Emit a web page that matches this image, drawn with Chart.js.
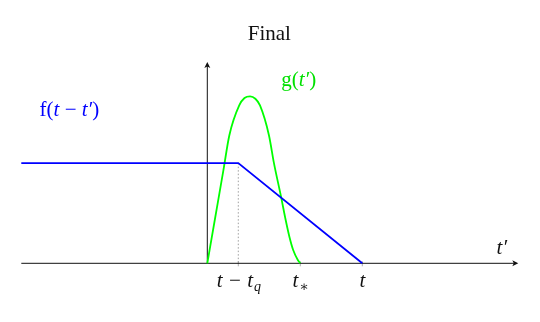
<!DOCTYPE html>
<html>
<head>
<meta charset="utf-8">
<script src="https://cdn.jsdelivr.net/npm/chart.js@4"></script>
<style>
  body { margin: 0; background: #fff; }
</style>
</head>
<body>
<canvas id="chart" width="540" height="322"></canvas>
<script>
// f(t - t'): flat, then linear drop to zero at t
const fX = [-6, 1, 5];
const fY = [3, 3, 0];

// g(t')
const gX = [0, 0.24, 0.52, 0.71, 1.03, 1.2, 1.38, 1.55, 1.7, 1.99, 2.15, 2.38, 2.53, 2.65, 2.77, 2.92, 3.0];
const gY = [0, 1.29, 2.79, 3.83, 4.73, 4.95, 5.0, 4.93, 4.73, 3.83, 3.0, 1.99, 1.29, 0.79, 0.4, 0.1, 0];

// marked positions on the t' axis
const tickValues = [1, 3, 5];
const tickMain = ['t − t', 't', 't'];
const tickSub = ['q', '∗', ''];

const serif = '"Liberation Serif", "DejaVu Serif", serif';

function pts(xs, ys) {
    return xs.map((x, i) => ({ x: x, y: ys[i] }));
}

// draw pieces of text in different styles, centred on cx
function drawPieces(ctx, pieces, cx, y, size) {
    let total = 0;
    pieces.forEach(p => {
        ctx.font = p[1] + ' ' + size + 'px ' + serif;
        total += ctx.measureText(p[0]).width;
    });
    let x = cx - total / 2;
    ctx.textAlign = 'left';
    pieces.forEach(p => {
        ctx.font = p[1] + ' ' + size + 'px ' + serif;
        ctx.fillText(p[0], x, y);
        x += ctx.measureText(p[0]).width;
    });
}

// axes with arrow heads, dotted guide, tick marks, labels
const decorations = {
    id: 'decorations',
    beforeDatasetsDraw(chart) {
        const ctx = chart.ctx;
        const xs = chart.scales.x;
        const ys = chart.scales.y;
        const x0 = xs.getPixelForValue(0);
        const y0 = ys.getPixelForValue(0);

        ctx.save();
        // dotted guide at t - tq
        ctx.strokeStyle = '#888';
        ctx.lineWidth = 0.8;
        ctx.setLineDash([1.5, 2]);
        ctx.beginPath();
        ctx.moveTo(xs.getPixelForValue(tickValues[0]), ys.getPixelForValue(fY[1]));
        ctx.lineTo(xs.getPixelForValue(tickValues[0]), y0);
        ctx.stroke();
        ctx.setLineDash([]);

        // tick marks
        ctx.strokeStyle = '#999';
        tickValues.forEach(v => {
            const px = xs.getPixelForValue(v);
            ctx.beginPath();
            ctx.moveTo(px, y0 - 2);
            ctx.lineTo(px, y0 + 3);
            ctx.stroke();
        });

        // axes
        ctx.strokeStyle = '#111';
        ctx.fillStyle = '#111';
        ctx.lineWidth = 1;
        const xEnd = xs.getPixelForValue(xs.max);
        const yEnd = ys.getPixelForValue(ys.max);
        ctx.beginPath();
        ctx.moveTo(xs.getPixelForValue(xs.min), y0);
        ctx.lineTo(xEnd - 2, y0);
        ctx.moveTo(x0, y0);
        ctx.lineTo(x0, yEnd + 2);
        ctx.stroke();
        // arrow heads
        ctx.beginPath();
        ctx.moveTo(xEnd + 1, y0);
        ctx.lineTo(xEnd - 5, y0 - 3);
        ctx.lineTo(xEnd - 3.5, y0);
        ctx.lineTo(xEnd - 5, y0 + 3);
        ctx.closePath();
        ctx.fill();
        ctx.beginPath();
        ctx.moveTo(x0, yEnd - 1);
        ctx.lineTo(x0 - 3, yEnd + 5);
        ctx.lineTo(x0, yEnd + 3.5);
        ctx.lineTo(x0 + 3, yEnd + 5);
        ctx.closePath();
        ctx.fill();
        ctx.restore();
    },
    afterDraw(chart) {
        const ctx = chart.ctx;
        const xs = chart.scales.x;
        const ys = chart.scales.y;
        const y0 = ys.getPixelForValue(0);

        ctx.save();
        ctx.textBaseline = 'alphabetic';
        ctx.fillStyle = '#111';

        // tick labels
        tickValues.forEach((v, i) => {
            const px = xs.getPixelForValue(v);
            ctx.font = 'italic 21px ' + serif;
            const wMain = ctx.measureText(tickMain[i]).width;
            ctx.font = 'italic 14px ' + serif;
            const wSub = tickSub[i] ? ctx.measureText(tickSub[i]).width : 0;
            let left = px - (wMain + wSub) / 2;
            ctx.font = 'italic 21px ' + serif;
            ctx.fillText(tickMain[i], left, y0 + 24);
            if (tickSub[i]) {
                ctx.font = (tickSub[i] === '∗' ? '' : 'italic ') + '14px ' + serif;
                ctx.fillText(tickSub[i], left + wMain + 1, y0 + 28);
            }
        });

        // axis name
        ctx.font = 'italic 21px ' + serif;
        ctx.textAlign = 'center';
        ctx.fillText('t′', xs.getPixelForValue(9.5), y0 - 9);

        // curve names
        ctx.fillStyle = '#0000ff';
        drawPieces(ctx, [['f', 'normal'], ['(', 'normal'], ['t', 'italic'], [' − ', 'normal'],
            ['t′', 'italic'], [')', 'normal']], xs.getPixelForValue(-4.45), ys.getPixelForValue(4.4), 21);
        ctx.fillStyle = '#00e000';
        drawPieces(ctx, [['g', 'normal'], ['(', 'normal'], ['t′', 'italic'], [')', 'normal']],
            xs.getPixelForValue(2.95), ys.getPixelForValue(5.3), 21);
        ctx.restore();
    }
};

new Chart(document.getElementById('chart'), {
    type: 'scatter',
    data: {
        datasets: [
            {
                label: 'f',
                data: pts(fX, fY),
                showLine: true,
                borderColor: '#0000ff',
                borderWidth: 1.8,
                pointRadius: 0,
                clip: false
            },
            {
                label: 'g',
                data: pts(gX, gY),
                showLine: true,
                borderColor: '#00ff00',
                borderWidth: 1.8,
                pointRadius: 0,
                cubicInterpolationMode: 'monotone',
                clip: false
            }
        ]
    },
    options: {
        responsive: false,
        animation: false,
        layout: {
            padding: { left: 21.3, right: 22.7, top: 0, bottom: 58.7 }
        },
        plugins: {
            legend: { display: false },
            tooltip: { enabled: false },
            title: {
                display: true,
                text: 'Final',
                color: '#111',
                font: { family: serif, size: 21, weight: 'normal', lineHeight: 1.2 },
                padding: { top: 22, bottom: 15.8 }
            }
        },
        scales: {
            x: { type: 'linear', min: -6, max: 10, display: false },
            y: { type: 'linear', min: 0, max: 6, display: false }
        }
    },
    plugins: [decorations]
});
</script>
</body>
</html>
